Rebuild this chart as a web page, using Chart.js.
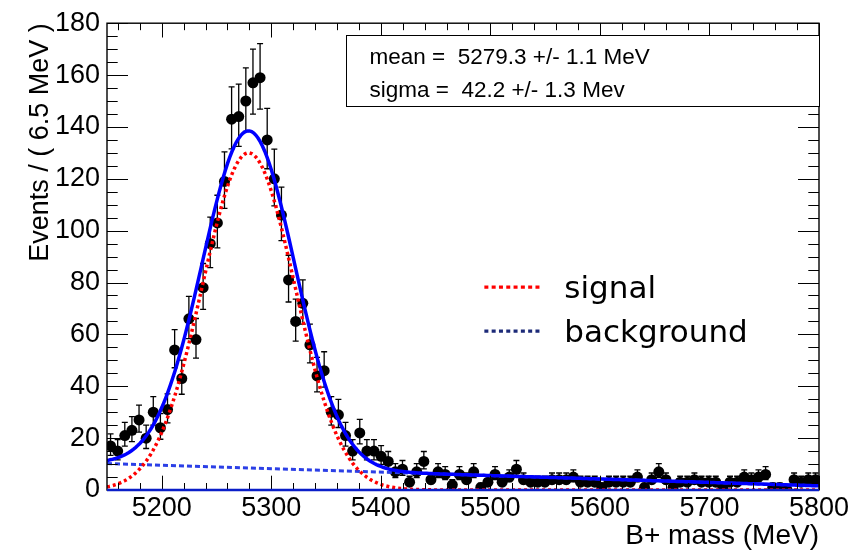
<!DOCTYPE html>
<html>
<head>
<meta charset="utf-8">
<script src="https://cdn.jsdelivr.net/npm/chart.js@4.4.1/dist/chart.umd.min.js"></script>
<style>
  html, body { margin: 0; padding: 0; background: #ffffff; }
  #wrap { width: 866px; height: 553px; }
  canvas { display: block; }
</style>
</head>
<body>
<div id="wrap"><canvas id="massPlot" width="866" height="553"></canvas></div>
<script>
// B+ candidate mass histogram: 100 bins of 6.5 MeV between 5150 and 5800 MeV
const massBins = [
  5153.25, 5159.75, 5166.25, 5172.75, 5179.25, 5185.75, 5192.25, 5198.75, 5205.25, 5211.75,
  5218.25, 5224.75, 5231.25, 5237.75, 5244.25, 5250.75, 5257.25, 5263.75, 5270.25, 5276.75,
  5283.25, 5289.75, 5296.25, 5302.75, 5309.25, 5315.75, 5322.25, 5328.75, 5335.25, 5341.75,
  5348.25, 5354.75, 5361.25, 5367.75, 5374.25, 5380.75, 5387.25, 5393.75, 5400.25, 5406.75,
  5413.25, 5419.75, 5426.25, 5432.75, 5439.25, 5445.75, 5452.25, 5458.75, 5465.25, 5471.75,
  5478.25, 5484.75, 5491.25, 5497.75, 5504.25, 5510.75, 5517.25, 5523.75, 5530.25, 5536.75,
  5543.25, 5549.75, 5556.25, 5562.75, 5569.25, 5575.75, 5582.25, 5588.75, 5595.25, 5601.75,
  5608.25, 5614.75, 5621.25, 5627.75, 5634.25, 5640.75, 5647.25, 5653.75, 5660.25, 5666.75,
  5673.25, 5679.75, 5686.25, 5692.75, 5699.25, 5705.75, 5712.25, 5718.75, 5725.25, 5731.75,
  5738.25, 5744.75, 5751.25, 5757.75, 5764.25, 5770.75, 5777.25, 5783.75, 5790.25, 5796.75
];

// Events per bin
const eventCounts = [
  17, 15, 21, 23, 27, 20, 30, 24, 31, 54,
  43, 66, 58, 78, 95, 103, 119, 143, 144, 150,
  157, 159, 135, 120, 106, 81, 65, 72, 56, 44,
  46, 30, 29, 21, 15, 22, 15, 15, 13, 11,
  7, 8, 3, 7, 11, 4, 7, 6, 2, 6,
  4, 7, 1, 3, 6, 3, 5, 8, 4, 3,
  3, 3, 4, 4, 4, 5, 3, 3, 3, 1,
  3, 3, 3, 3, 5, 1, 4, 7, 4, 1,
  3, 3, 4, 3, 3, 3, 1, 3, 3, 5,
  4, 5, 6, 1, 1, 0, 4, 3, 4, 4
];

const xTickValues = [5200, 5300, 5400, 5500, 5600, 5700, 5800];
const yTickValues = [0, 20, 40, 60, 80, 100, 120, 140, 160, 180];

// Fit results
const signalMean = 5279.3;
const signalMeanErr = 1.1;
const signalSigma = 42.2;
const signalSigmaErr = 1.3;
const signalPeak = 130;
const backgroundEnds = [ { x: 5150, y: 10.2 }, { x: 5800, y: 1.6 } ];

const statLines = [
  'mean =  ' + signalMean.toFixed(1) + ' +/- ' + signalMeanErr.toFixed(1) + ' MeV',
  'sigma =  ' + signalSigma.toFixed(1) + ' +/- ' + signalSigmaErr.toFixed(1) + ' Mev'
];
const legendLabels = ['signal', 'background'];

const AXIS_FONT = "'Liberation Sans', Arial, Helvetica, sans-serif";
const MASS_MIN = 5150, MASS_MAX = 5800;

// Fit curve evaluation
function backgroundAt(m) {
  const a = backgroundEnds[0], b = backgroundEnds[1];
  return a.y + (b.y - a.y) * (m - a.x) / (b.x - a.x);
}
function signalAt(m) {
  const z = (m - signalMean) / signalSigma;
  return signalPeak * Math.exp(-0.5 * z * z);
}
const curveMass = [];
for (let m = MASS_MIN; m <= MASS_MAX + 1e-9; m += 2) curveMass.push(m);
const signalCurve = curveMass.map(m => ({ x: m, y: signalAt(m) }));
const totalCurve = curveMass.map(m => ({ x: m, y: signalAt(m) + backgroundAt(m) }));

const dataPoints = massBins.map((m, i) => ({ x: m, y: eventCounts[i] }));

// Error bars under the markers, then inward ticks, frame, stats box and legend
const decorations = {
  id: 'decorations',
  beforeDatasetDraw(chart, args) {
    if (args.index !== 0) return;
    const { ctx, scales: { x, y } } = chart;
    ctx.save();
    ctx.strokeStyle = '#000';
    ctx.lineWidth = 1.3;
    ctx.beginPath();
    massBins.forEach((m, i) => {
      const n = eventCounts[i];
      const r = Math.sqrt(n + 0.25);
      const px = x.getPixelForValue(m);
      const yt = y.getPixelForValue(n + r + 0.5);
      const yb = y.getPixelForValue(Math.max(0, n - r + 0.5));
      ctx.moveTo(px, yt); ctx.lineTo(px, yb);
      ctx.moveTo(px - 3, yt); ctx.lineTo(px + 3, yt);
      ctx.moveTo(px - 3, yb); ctx.lineTo(px + 3, yb);
    });
    ctx.stroke();
    ctx.restore();
  },
  afterDatasetsDraw(chart) {
    const { ctx, chartArea: a, scales: { x, y } } = chart;
    ctx.save();
    ctx.strokeStyle = '#000';
    ctx.lineWidth = 1;
    ctx.beginPath();
    // x ticks (bottom and top), major every 100, minor every 20
    for (let m = 5160; m <= MASS_MAX; m += 20) {
      const px = Math.round(x.getPixelForValue(m)) + 0.5;
      const len = (m % 100 === 0) ? 14.3 : 7;
      ctx.moveTo(px, a.bottom); ctx.lineTo(px, a.bottom - len);
      ctx.moveTo(px, a.top); ctx.lineTo(px, a.top + len);
    }
    // y ticks (left and right), major every 20, minor every 5
    for (let v = 0; v <= 180; v += 5) {
      const py = Math.round(y.getPixelForValue(v)) + 0.5;
      const len = (v % 20 === 0) ? 21 : 10.7;
      ctx.moveTo(a.left, py); ctx.lineTo(a.left + len, py);
      ctx.moveTo(a.right, py); ctx.lineTo(a.right - len, py);
    }
    ctx.stroke();
    // frame
    ctx.lineWidth = 1.4;
    ctx.strokeRect(a.left, a.top, a.right - a.left, a.bottom - a.top);
    // zero line along the bottom
    ctx.strokeStyle = '#0a1ec8';
    ctx.lineWidth = 2.6;
    ctx.beginPath();
    const y0 = y.getPixelForValue(0);
    ctx.moveTo(a.left, y0); ctx.lineTo(a.right, y0);
    ctx.stroke();

    // stats box
    const bx = a.left + (a.right - a.left) * 0.335;
    const by = a.top + 12;
    const bh = 71;
    ctx.fillStyle = '#fff';
    ctx.fillRect(bx, by, a.right - bx, bh);
    ctx.strokeStyle = '#000';
    ctx.lineWidth = 1;
    ctx.strokeRect(Math.round(bx) + 0.5, Math.round(by) + 0.5, a.right - Math.round(bx), bh);
    ctx.fillStyle = '#000';
    ctx.font = "22.5px " + AXIS_FONT;
    ctx.textBaseline = 'middle';
    ctx.textAlign = 'left';
    ctx.fillText(statLines[0], bx + 24, by + 23);
    ctx.fillText(statLines[1], bx + 24, by + 56);

    // legend
    const lx = a.left + (a.right - a.left) * 0.53;
    const ly = [a.top + 264, a.top + 308];
    const legendColors = ['#ff0000', '#1c2a78'];
    ctx.lineWidth = 3.2;
    ctx.setLineDash([4, 3.3]);
    legendLabels.forEach((t, i) => {
      ctx.strokeStyle = legendColors[i];
      ctx.beginPath();
      ctx.moveTo(lx, ly[i]); ctx.lineTo(lx + 58, ly[i]);
      ctx.stroke();
    });
    ctx.setLineDash([]);
    ctx.fillStyle = '#000';
    ctx.font = "31px 'DejaVu Sans', Verdana, sans-serif";
    ctx.textBaseline = 'alphabetic';
    legendLabels.forEach((t, i) => {
      ctx.fillText(t, lx + 80, ly[i] + 11);
    });
    ctx.restore();
  }
};

new Chart(document.getElementById('massPlot'), {
  type: 'scatter',
  data: {
    datasets: [
      {
        label: 'data',
        data: dataPoints,
        order: 10,
        pointRadius: 5.5,
        pointHoverRadius: 5.5,
        pointBackgroundColor: '#000',
        pointBorderColor: '#000',
        pointBorderWidth: 0,
        showLine: false
      },
      {
        label: 'background',
        data: backgroundEnds,
        order: 3,
        showLine: true,
        pointRadius: 0,
        borderColor: '#2b3fe6',
        borderWidth: 3,
        borderDash: [5, 3],
        tension: 0
      },
      {
        label: 'signal',
        data: signalCurve,
        order: 2,
        showLine: true,
        pointRadius: 0,
        borderColor: '#ff0000',
        borderWidth: 3.5,
        borderDash: [3, 3],
        tension: 0
      },
      {
        label: 'total',
        data: totalCurve,
        order: 1,
        showLine: true,
        pointRadius: 0,
        borderColor: '#0000ff',
        borderWidth: 3.5,
        tension: 0
      }
    ]
  },
  options: {
    responsive: false,
    animation: false,
    devicePixelRatio: 1,
    layout: { padding: { left: 0, top: 14, right: 47, bottom: 0 } },
    plugins: { legend: { display: false }, tooltip: { enabled: false } },
    events: [],
    scales: {
      x: {
        type: 'linear',
        min: MASS_MIN,
        max: MASS_MAX,
        afterBuildTicks: s => { s.ticks = xTickValues.map(v => ({ value: v })); },
        afterFit: s => { s.height = 63; },
        grid: { display: false, drawTicks: false },
        border: { display: false },
        ticks: {
          color: '#000',
          font: { family: AXIS_FONT, size: 27 },
          padding: 2,
          maxRotation: 0,
          autoSkip: false,
          callback: v => String(v)
        },
        title: {
          display: true,
          text: 'B+ mass (MeV)',
          align: 'end',
          color: '#000',
          font: { family: AXIS_FONT, size: 28 },
          padding: { top: 0, bottom: 0 }
        }
      },
      y: {
        type: 'linear',
        min: 0,
        max: 180,
        afterBuildTicks: s => { s.ticks = yTickValues.map(v => ({ value: v })); },
        afterFit: s => { s.width = 107; },
        grid: { display: false, drawTicks: false },
        border: { display: false },
        ticks: {
          color: '#000',
          font: { family: AXIS_FONT, size: 27 },
          padding: 7,
          autoSkip: false,
          callback: v => String(v)
        },
        title: {
          display: true,
          text: 'Events / ( 6.5 MeV )',
          align: 'end',
          color: '#000',
          font: { family: AXIS_FONT, size: 27 },
          padding: { top: 24, bottom: 0 }
        }
      }
    }
  },
  plugins: [decorations]
});
</script>
</body>
</html>
